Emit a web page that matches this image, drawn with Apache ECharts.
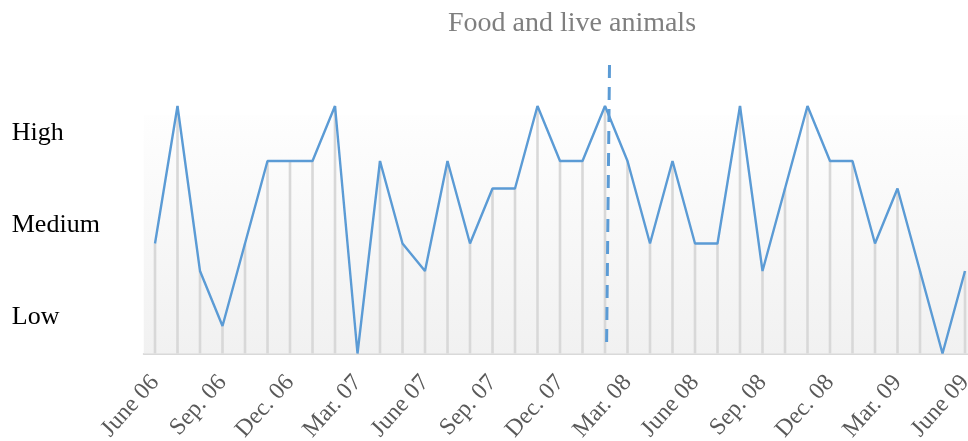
<!DOCTYPE html>
<html>
<head>
<meta charset="utf-8">
<script src="https://cdn.jsdelivr.net/npm/echarts@6/dist/echarts.min.js"></script>
<style>
  html, body { margin: 0; padding: 0; background: #ffffff; }
  #chart { width: 968px; height: 441px; }
</style>
</head>
<body>
<div id="chart"></div>
<script>
// Monthly risk level, June 2006 – June 2009 (0 = lowest)
const riskLevels = [4, 9, 3, 1, 4, 7, 7, 7, 9, 0, 7, 4, 3, 7, 4, 6, 6, 9, 7, 7,
                    9, 7, 4, 7, 4, 4, 9, 3, 6, 9, 7, 7, 4, 6, 3, 0, 3];

// Quarterly tick labels along the time axis
const quarterLabels = ['June 06', 'Sep. 06', 'Dec. 06', 'Mar. 07', 'June 07', 'Sep. 07', 'Dec. 07',
                       'Mar. 08', 'June 08', 'Sep. 08', 'Dec. 08', 'Mar. 09', 'June 09'];

// Qualitative bands on the level axis
const bandLabels = ['Low', 'Medium', 'High'];
const bandValues = [4 / 3, 14 / 3, 8];

const monthIndex = riskLevels.map((_, i) => i);
const points = riskLevels.map((v, i) => [monthIndex[i], v]);
const quarterTicks = quarterLabels.map((_, i) => i * 3);

const serif = 'Liberation Serif';
const blue = '#5b9bd5';

const chart = echarts.init(document.getElementById('chart'), null, { renderer: 'canvas' });

chart.setOption({
  animation: false,
  backgroundColor: '#ffffff',
  title: {
    text: 'Food and live animals',
    left: 567,
    top: 5,
    textAlign: 'center',
    textStyle: { fontFamily: serif, fontWeight: 'normal', fontSize: 28, color: '#7f7f7f' }
  },
  grid: {
    left: 143.75, width: 832.5, top: 64.75, bottom: 87.5,
    outerBoundsMode: 'none', containLabel: false
  },
  xAxis: {
    type: 'value',
    min: -0.5,
    max: 36.5,
    axisLine: { show: true, lineStyle: { color: '#d9d9d9', width: 2 } },
    axisTick: { show: false },
    splitLine: { show: false },
    axisLabel: {
      customValues: quarterTicks,
      rotate: 48,
      margin: 25,
      fontFamily: serif,
      fontSize: 24,
      color: '#595959',
      hideOverlap: false,
      formatter: (v) => quarterLabels[Math.round(v / 3)]
    }
  },
  yAxis: {
    type: 'value',
    min: 0,
    max: 10.5,
    axisLine: { show: false },
    axisTick: { show: false },
    splitLine: { show: false },
    axisLabel: {
      customValues: bandValues,
      align: 'left',
      margin: 132,
      fontFamily: serif,
      fontSize: 26,
      color: '#000000',
      formatter: (v) => {
        let best = 0;
        bandValues.forEach((b, i) => { if (Math.abs(b - v) < Math.abs(bandValues[best] - v)) best = i; });
        return bandLabels[best];
      }
    }
  },
  series: [
    {
      // thin drop lines from each month down to the axis
      type: 'bar',
      data: points,
      barWidth: 2.6,
      silent: true,
      itemStyle: { color: '#d8d8d8' },
      z: 2,
      markArea: {
        silent: true,
        itemStyle: {
          color: new echarts.graphic.LinearGradient(0, 0, 0, 1, [
            { offset: 0, color: '#fefefe' },
            { offset: 1, color: '#f1f1f1' }
          ])
        },
        data: [[{ yAxis: 0 }, { yAxis: 8.673 }]]
      }
    },
    {
      type: 'line',
      data: points,
      showSymbol: false,
      silent: true,
      lineStyle: { color: blue, width: 2.4 },
      z: 3,
      markLine: {
        silent: true,
        symbol: ['none', 'none'],
        label: { show: false },
        lineStyle: { color: blue, width: 3, type: [13, 9] },
        data: [[{ coord: [20.2, 10.49] }, { coord: [20.07, 0.24] }]]
      }
    }
  ]
});
</script>
</body>
</html>
